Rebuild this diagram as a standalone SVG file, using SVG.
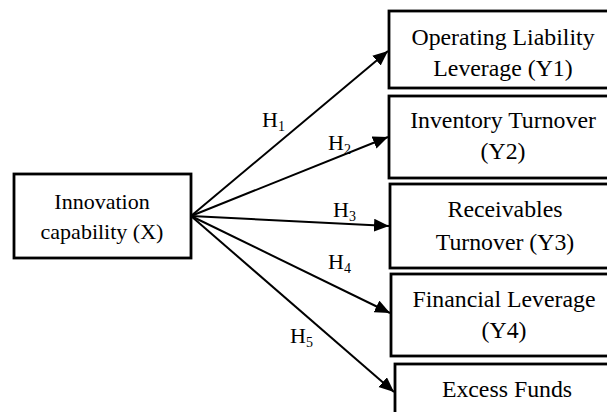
<svg xmlns="http://www.w3.org/2000/svg" width="607" height="412" viewBox="0 0 607 412">
<style>
.box{fill:#fff;stroke:#000;stroke-width:2.8}
.t{font-family:"Liberation Serif","Times New Roman",serif;font-size:22px;fill:#000;text-anchor:middle}
.y{font-size:23.8px}
.h{font-family:"Liberation Serif","Times New Roman",serif;font-size:22px;fill:#000}
.s{font-size:14px}
.c{stroke:#000;stroke-width:2;fill:none;marker-end:url(#ah)}
</style>
<defs>
<marker id="ah" markerUnits="userSpaceOnUse" markerWidth="16" markerHeight="14" refX="15" refY="6.5" orient="auto">
<path d="M0,0 L15,6.5 L0,13 Z" fill="#000"/>
</marker>
</defs>
<rect width="607" height="412" fill="#fff"/>
<g id="connectors">
<line class="c" x1="191" y1="216" x2="388" y2="51"/>
<line class="c" x1="191" y1="216" x2="388" y2="137"/>
<line class="c" x1="191" y1="216" x2="389" y2="226"/>
<line class="c" x1="191" y1="216" x2="390" y2="313"/>
<line class="c" x1="191" y1="216" x2="394" y2="392"/>
<text class="h" x="262" y="127">H<tspan class="s" dy="4">1</tspan></text>
<text class="h" x="328" y="150">H<tspan class="s" dy="4">2</tspan></text>
<text class="h" x="333" y="217">H<tspan class="s" dy="4">3</tspan></text>
<text class="h" x="328" y="269">H<tspan class="s" dy="4">4</tspan></text>
<text class="h" x="290" y="343">H<tspan class="s" dy="4">5</tspan></text>
</g>
<g id="X">
<rect class="box" x="14" y="174" width="177" height="84"/>
<text class="t" x="102" y="209">Innovation</text>
<text class="t" x="102" y="239">capability (X)</text>
</g>
<g id="Y1">
<rect class="box" x="389" y="11" width="230" height="77"/>
<text class="t y" x="503" y="45">Operating Liability</text>
<text class="t y" x="503" y="76">Leverage (Y1)</text>
</g>
<g id="Y2">
<rect class="box" x="389" y="96" width="230" height="82"/>
<text class="t y" x="503" y="128">Inventory Turnover</text>
<text class="t y" x="503" y="159">(Y2)</text>
</g>
<g id="Y3">
<rect class="box" x="390" y="184" width="230" height="84"/>
<text class="t y" x="505" y="217">Receivables</text>
<text class="t y" x="505" y="250">Turnover (Y3)</text>
</g>
<g id="Y4">
<rect class="box" x="391" y="274" width="230" height="82"/>
<text class="t y" x="504" y="307">Financial Leverage</text>
<text class="t y" x="504" y="338">(Y4)</text>
</g>
<g id="Y5">
<rect class="box" x="395" y="364" width="230" height="60"/>
<text class="t y" x="507" y="397">Excess Funds</text>
</g>
</svg>
